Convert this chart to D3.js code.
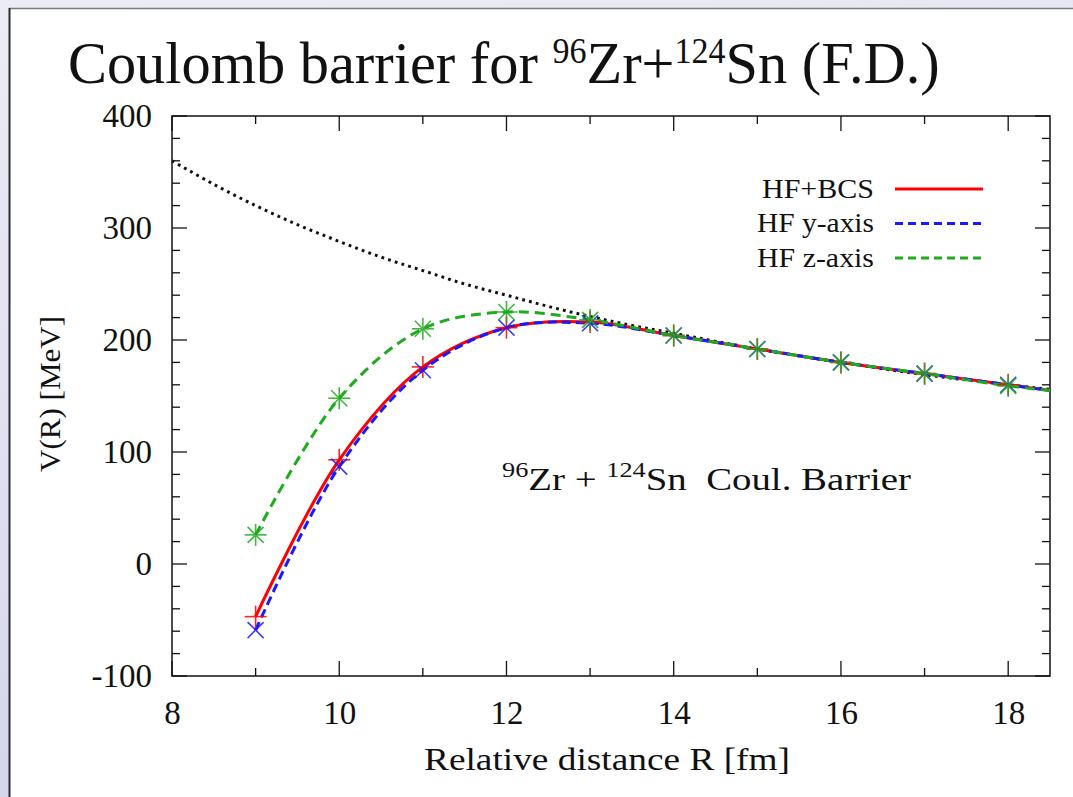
<!DOCTYPE html>
<html>
<head>
<meta charset="utf-8">
<script src="https://cdn.jsdelivr.net/npm/d3@7"></script>
<style>
  html, body { margin: 0; padding: 0; }
  body { width: 1073px; height: 797px; overflow: hidden;
         background: linear-gradient(170deg, #ececf5 0%, #dcdcee 60%, #cfcfe6 100%); }
  svg { display: block; }
  svg text { font-family: "Liberation Serif", "Times New Roman", serif !important; fill: #111; }
</style>
</head>
<body>
<svg id="chart" width="1073" height="797"></svg>
<script>
// Distances at which the potentials were evaluated (fm)
const distances = [9, 10, 11, 12, 13, 14, 15, 16, 17, 18];
// Potential V(R) in MeV for the three calculations
const hfBcs  = [-47, 93, 176, 211, 216, 204, 192, 180, 170, 160];
const hfYAxis = [-59, 87, 173, 211, 215, 204, 192, 180, 170, 160];
const hfZAxis = [26, 148, 210, 225, 218, 204, 192, 180, 170, 159];
// Continuation of each curve to the right edge of the frame
const tailR = 18.5;
const tailV = [155, 155, 155];
// Point-charge Coulomb potential
const coulR = [8, 8.5, 9, 9.5, 10, 10.5, 11, 11.5, 12, 12.5, 13, 13.5, 14, 15, 16, 17, 18, 18.5];
const coulV = [360, 339, 320, 303, 288, 274, 262, 250, 240, 230, 221, 213, 206, 192, 180, 169, 160, 156];

const xTicks = [8, 10, 12, 14, 16, 18];
const yTicks = [-100, 0, 100, 200, 300, 400];
const seriesNames = ["HF+BCS", "HF y-axis", "HF z-axis"];

const SERIF = '"Liberation Serif", "Times New Roman", serif';
const svg = d3.select("#chart");

// Stretch a text element horizontally to a given width, anchored at ax
function fitWidth(sel, ax, width) {
  const w = sel.node().getBBox().width;
  sel.attr("transform", `translate(${ax},0) scale(${width / w},1) translate(${-ax},0)`);
}

// White slide with its edge
svg.append("rect").attr("x", 9).attr("y", 8.5).attr("width", 1080).attr("height", 800)
  .attr("fill", "#ffffff");
svg.append("line").attr("x1", 9).attr("x2", 1073).attr("y1", 8.5).attr("y2", 8.5)
  .attr("stroke", "#7a7a82").attr("stroke-width", 1.5);
svg.append("line").attr("x1", 9.5).attr("x2", 9.5).attr("y1", 8).attr("y2", 797)
  .attr("stroke", "#2a2a30").attr("stroke-width", 2);

// Title
const title = svg.append("text").attr("x", 68).attr("y", 83)
  .style("font-family", SERIF).style("font-size", "60px").style("white-space", "pre");
title.append("tspan").text("Coulomb barrier for ");
title.append("tspan").attr("dy", -20).style("font-size", "35px").text("96");
title.append("tspan").attr("dy", 20).text("Zr+");
title.append("tspan").attr("dy", -20).style("font-size", "35px").text("124");
title.append("tspan").attr("dy", 20).text("Sn (F.D.)");
fitWidth(title, 68, 872);

// Plot frame
const plotL = 172, plotR = 1050, plotT = 116, plotB = 676;
const x = d3.scaleLinear().domain([8, 18.5]).range([plotL, plotR]);
const y = d3.scaleLinear().domain([-100, 400]).range([plotB, plotT]);

const ticks = svg.append("g").attr("stroke", "#111").attr("stroke-width", 1.3);
const xMinor = d3.range(8, 18.51, 1), yMinor = d3.range(-100, 400.1, 20);
xMinor.forEach(v => {
  const len = v % 2 === 0 ? 15 : 8;
  ticks.append("line").attr("x1", x(v)).attr("x2", x(v)).attr("y1", plotB).attr("y2", plotB - len);
  ticks.append("line").attr("x1", x(v)).attr("x2", x(v)).attr("y1", plotT).attr("y2", plotT + len);
});
yMinor.forEach(v => {
  const len = v % 100 === 0 ? 15 : 8;
  ticks.append("line").attr("y1", y(v)).attr("y2", y(v)).attr("x1", plotL).attr("x2", plotL + len);
  ticks.append("line").attr("y1", y(v)).attr("y2", y(v)).attr("x1", plotR).attr("x2", plotR - len);
});

// Tick labels via d3 axes (lines hidden, text kept)
const xAxis = svg.append("g").attr("transform", `translate(0,${plotB})`)
  .call(d3.axisBottom(x).tickValues(xTicks).tickSize(0).tickPadding(25).tickFormat(d3.format("d")));
const yAxis = svg.append("g").attr("transform", `translate(${plotL},0)`)
  .call(d3.axisLeft(y).tickValues(yTicks).tickSize(0).tickPadding(20).tickFormat(d => d < 0 ? "-" + Math.abs(d) : d));
[xAxis, yAxis].forEach(a => {
  a.attr("font-family", null);
  a.select(".domain").remove();
  a.selectAll("text").style("font-family", SERIF).style("font-size", "33px").attr("fill", "#111");
});
xAxis.selectAll("text").attr("dy", "0.71em");

svg.append("rect").attr("x", plotL).attr("y", plotT).attr("width", plotR - plotL).attr("height", plotB - plotT)
  .attr("fill", "none").attr("stroke", "#111").attr("stroke-width", 1.5);

// Axis titles
svg.append("text").attr("x", 607).attr("y", 770).attr("text-anchor", "middle")
  .style("font-family", SERIF).style("font-size", "31px")
  .attr("textLength", 366).attr("lengthAdjust", "spacingAndGlyphs").text("Relative distance R [fm]");
svg.append("text").attr("transform", "translate(60,394) rotate(-90)").attr("text-anchor", "middle")
  .style("font-family", SERIF).style("font-size", "30px")
  .attr("textLength", 156).attr("lengthAdjust", "spacingAndGlyphs").text("V(R) [MeV]");

// Clip for curves
svg.append("clipPath").attr("id", "plotClip").append("rect")
  .attr("x", plotL).attr("y", plotT).attr("width", plotR - plotL).attr("height", plotB - plotT);
const plot = svg.append("g").attr("clip-path", "url(#plotClip)");

const line = d3.line().x(d => x(d[0])).y(d => y(d[1])).curve(d3.curveCatmullRom.alpha(0.5));

// Coulomb dotted curve
plot.append("path").datum(coulR.map((r, i) => [r, coulV[i]]))
  .attr("d", line).attr("fill", "none").attr("stroke", "#111")
  .attr("stroke-width", 3).attr("stroke-dasharray", "2.8 4.2");

const series = [
  { name: seriesNames[0], values: hfBcs,  color: "#ff0000", dash: null,   marker: "plus" },
  { name: seriesNames[1], values: hfYAxis, color: "#1a1aff", dash: "9 5",  marker: "cross" },
  { name: seriesNames[2], values: hfZAxis, color: "#1faa1f", dash: "10 6", marker: "star" }
];

series.forEach((s, k) => {
  const pts = distances.map((r, i) => [r, s.values[i]]).concat([[tailR, tailV[k]]]);
  plot.append("path").datum(pts).attr("d", line).attr("fill", "none")
    .attr("stroke", s.color).attr("stroke-width", 3)
    .attr("stroke-dasharray", s.dash);
});

// Point markers
function marker(g, cx, cy, type, color) {
  const h = 11, d = 8;
  const segs = [];
  if (type === "plus" || type === "star") segs.push([cx - h, cy, cx + h, cy], [cx, cy - h, cx, cy + h]);
  if (type === "cross" || type === "star") segs.push([cx - d, cy - d, cx + d, cy + d], [cx - d, cy + d, cx + d, cy - d]);
  segs.forEach(sg => g.append("line").attr("x1", sg[0]).attr("y1", sg[1]).attr("x2", sg[2]).attr("y2", sg[3])
    .attr("stroke", color).attr("stroke-width", 1.6));
}
series.forEach(s => {
  const g = svg.append("g").attr("opacity", 0.85);
  distances.forEach((r, i) => marker(g, x(r), y(s.values[i]), s.marker, s.color));
});

// Legend
const legend = svg.append("g");
const legendW = [112, 117, 117];
series.forEach((s, i) => {
  const ly = 189 + i * 34.5;
  legend.append("text").attr("x", 874).attr("y", ly).attr("dy", "0.33em").attr("text-anchor", "end")
    .style("font-family", SERIF).style("font-size", "27px")
    .attr("textLength", legendW[i]).attr("lengthAdjust", "spacingAndGlyphs").text(s.name);
  legend.append("line").attr("x1", 895).attr("x2", 983).attr("y1", ly).attr("y2", ly)
    .attr("stroke", s.color).attr("stroke-width", 3).attr("stroke-dasharray", s.dash ? "8 5" : null);
});

// Annotation
const note = svg.append("text").attr("x", 502).attr("y", 490)
  .style("font-family", SERIF).style("font-size", "31px").style("white-space", "pre");
note.append("tspan").attr("dy", -13).style("font-size", "21px").text("96");
note.append("tspan").attr("dy", 13).text("Zr + ");
note.append("tspan").attr("dy", -13).style("font-size", "21px").text("124");
note.append("tspan").attr("dy", 13).text("Sn  Coul. Barrier");
fitWidth(note, 502, 410);
</script>
</body>
</html>
